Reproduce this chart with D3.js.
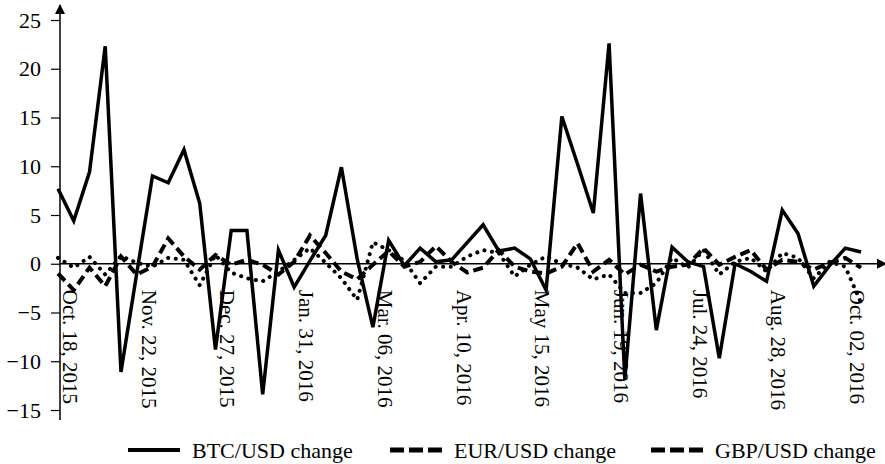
<!DOCTYPE html>
<html>
<head>
<meta charset="utf-8">
<script src="https://cdn.jsdelivr.net/npm/d3@7"></script>
<style>
  body { margin: 0; }
  svg text { font-family: 'Liberation Serif' !important; }
</style>
</head>
<body>
<div id="chart"></div>
<script>
// weekly % changes, Oct 11 2015 .. Oct 02 2016 (52 weeks)
var btc = [7.7, 4.4, 9.4, 22.3, -11.1, -1.0, 9.0, 8.3, 11.7, 6.2, -8.8, 3.4, 3.4, -13.4, 1.4, -2.4,
  0.3, 2.9, 9.9, 0.5, -6.5, 2.4, -0.2, 1.6, 0.2, 0.4, 2.2, 4.0, 1.3, 1.6, 0.5, -2.7,
  15.1, 10.2, 5.2, 22.6, -11.9, 7.2, -6.8, 1.7, 0.2, -0.3, -9.7, 0.0, -0.8, -1.8, 5.5, 3.1,
  -2.3, -0.2, 1.6, 1.2];

var eur = [-1.0, -2.7, -0.4, -2.3, 0.75, -1.1, -0.3, 2.6, 0.75, -0.6, 0.9, -0.1, 0.4, -0.1, -1.1, 0.2,
  2.9, 1.1, -0.8, -1.6, -0.1, 1.3, -0.3, 0.2, 1.8, 0.2, -0.9, -0.4, 1.4, -0.3, -0.8, -1.0,
  -0.3, 2.1, -0.8, 0.4, -1.1, -0.1, -0.8, -0.3, -0.1, 1.6, -0.1, 0.7, 1.4, -0.6, 0.4, 0.2,
  -0.6, 0.1, 0.6, -0.4];

var gbp = [0.6, -0.4, 0.7, -1.1, 0.8, 0.1, -0.3, 0.6, 0.4, -2.2, 0.9, -0.9, -1.5, -1.8, -0.8, 0.4,
  1.6, 0.1, -1.5, -3.7, 2.2, 1.4, 0.3, -2.0, -0.3, -0.3, 0.75, 1.4, 1.1, -1.3, -0.1, 0.75,
  0.0, -0.4, -1.6, -1.1, -3.0, -3.0, -2.0, 0.6, -0.4, 1.4, -1.1, 0.2, 0.6, -0.8, 1.1, 0.6,
  -1.5, 0.2, -0.3, -4.0];

var tickIndex = [1, 6, 11, 16, 21, 26, 31, 36, 41, 46, 51];
var tickLabels = ['Oct. 18, 2015', 'Nov. 22, 2015', 'Dec. 27, 2015', 'Jan. 31, 2016', 'Mar. 06, 2016',
  'Apr. 10, 2016', 'May 15, 2016', 'Jun. 19, 2016', 'Jul. 24, 2016', 'Aug. 28, 2016', 'Oct. 02, 2016'];

var yTicks = [-15, -10, -5, 0, 5, 10, 15, 20, 25];

var seriesNames = ['BTC/USD change', 'EUR/USD change', 'GBP/USD change'];

var width = 885, height = 464;

var svg = d3.select('#chart').append('svg')
  .attr('width', width)
  .attr('height', height)
  .attr('font-family', 'Liberation Serif');

var defs = svg.append('defs');
defs.append('marker')
  .attr('id', 'arrow')
  .attr('viewBox', '0 0 10 10')
  .attr('refX', 9).attr('refY', 5)
  .attr('markerUnits', 'userSpaceOnUse')
  .attr('markerWidth', 10).attr('markerHeight', 10)
  .attr('orient', 'auto')
  .append('path')
  .attr('d', 'M0,0 L10,5 L0,10 Z')
  .attr('fill', '#000');

var idx = d3.range(btc.length);

var x = d3.scalePoint()
  .domain(idx)
  .range([58, 861]);

var y = d3.scaleLinear()
  .domain([-15, 25])
  .range([410, 20]);

// y axis
var gy = svg.append('g')
  .attr('transform', 'translate(60,0)')
  .call(d3.axisLeft(y).tickValues(yTicks).tickSize(9).tickPadding(10))
  .attr('font-family', 'Liberation Serif')
  .attr('font-size', 22);
gy.select('.domain').remove();
gy.selectAll('.tick line').attr('stroke', '#000').attr('stroke-width', 1.2);
gy.selectAll('.tick text').attr('fill', '#000');

svg.append('line')
  .attr('x1', 60).attr('x2', 60)
  .attr('y1', 420).attr('y2', 5)
  .attr('stroke', '#000').attr('stroke-width', 1.5)
  .attr('marker-end', 'url(#arrow)');

// x axis at zero
var gx = svg.append('g')
  .attr('transform', 'translate(0,' + y(0) + ')')
  .call(d3.axisBottom(x).tickValues(tickIndex)
    .tickFormat(function(d) { return tickLabels[tickIndex.indexOf(d)]; })
    .tickSize(0))
  .attr('font-family', 'Liberation Serif')
  .attr('font-size', 21);
gx.select('.domain').remove();
gx.selectAll('.tick text')
  .attr('transform', 'translate(-4,0) rotate(90)')
  .attr('x', 26)
  .attr('y', 0)
  .attr('dy', '0.35em')
  .attr('fill', '#000')
  .attr('text-anchor', 'start');

svg.append('line')
  .attr('x1', 60).attr('x2', 886)
  .attr('y1', y(0)).attr('y2', y(0))
  .attr('stroke', '#000').attr('stroke-width', 1.5)
  .attr('marker-end', 'url(#arrow)');

var line = d3.line()
  .x(function(d, i) { return x(i); })
  .y(function(d) { return y(d); });

// dotted GBP
svg.append('path')
  .datum(gbp)
  .attr('d', line)
  .attr('fill', 'none')
  .attr('stroke', '#000')
  .attr('stroke-width', 4)
  .attr('stroke-linecap', 'round')
  .attr('stroke-dasharray', '0.1 7.5');

// dashed EUR
svg.append('path')
  .datum(eur)
  .attr('d', line)
  .attr('fill', 'none')
  .attr('stroke', '#000')
  .attr('stroke-width', 4)
  .attr('stroke-dasharray', '10 5');

// solid BTC
svg.append('path')
  .datum(btc)
  .attr('d', line)
  .attr('fill', 'none')
  .attr('stroke', '#000')
  .attr('stroke-width', 3.5)
  .attr('stroke-linejoin', 'miter');

// legend
var legendX = [128, 390, 651];
var legendDash = [null, '14 5', '14 5'];

var legend = svg.append('g')
  .attr('font-family', 'Liberation Serif')
  .attr('font-size', 22);
seriesNames.forEach(function(name, i) {
  legend.append('line')
    .attr('x1', legendX[i]).attr('x2', legendX[i] + 52)
    .attr('y1', 450).attr('y2', 450)
    .attr('stroke', '#000')
    .attr('stroke-width', i === 0 ? 4 : 5)
    .attr('stroke-dasharray', legendDash[i]);
  legend.append('text')
    .attr('x', legendX[i] + 64)
    .attr('y', 450)
    .attr('dy', '0.35em')
    .text(name);
});
</script>
</body>
</html>
